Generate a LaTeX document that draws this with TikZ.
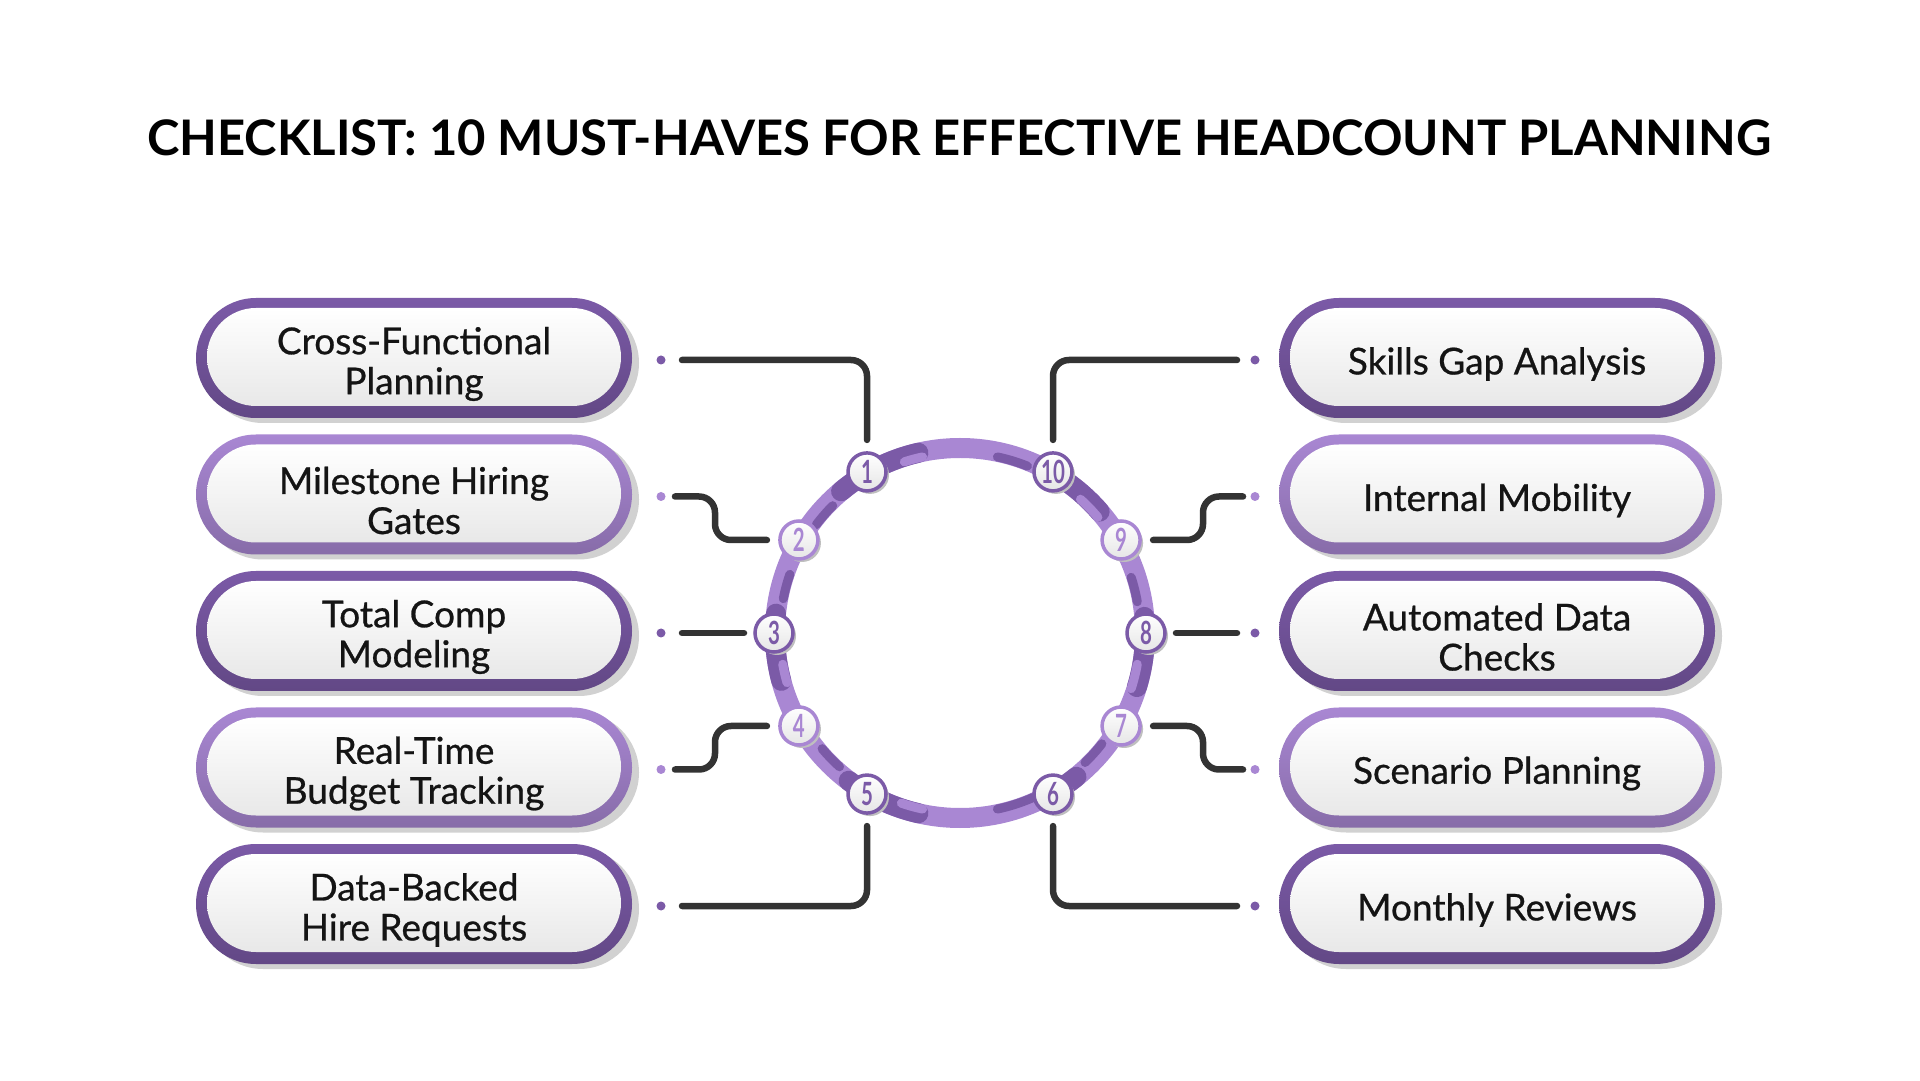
\documentclass[tikz,border=0pt]{standalone}
\usepackage{fontspec}
\usepackage{graphicx}
\setmainfont{Lato}
\newfontfamily\medfont{Lato}[FakeBold=0.7]
\usetikzlibrary{positioning, shadows}
\definecolor{dk}{HTML}{7B5AA7}
\definecolor{lt}{HTML}{A987D3}
\definecolor{wire}{HTML}{333333}
\newcommand{\numf}[1]{\scalebox{0.64}[1]{\bfseries #1}}

\begin{document}
\begin{tikzpicture}[x=1pt, y=1pt,
  pill/.style={rectangle, rounded corners=60pt, minimum width=436pt, minimum height=120pt, inner sep=0pt, top color=#1, middle color=#1, bottom color=#1!80!black, drop shadow={shadow xshift=7pt, shadow yshift=-5pt, fill=black!18, opacity=1}},
  face/.style={rectangle, rounded corners=49pt, minimum width=414pt, minimum height=98pt, top color=white, bottom color=black!9},
  caption/.style={align=center, text=black!92, font=\medfont\fontsize{37}{40}\selectfont},
  badge/.style={circle, minimum size=38pt, inner sep=0pt, draw=#1, line width=3.5pt, top color=white, bottom color=black!10, text=#1, font=\fontsize{32}{32}\selectfont, drop shadow={shadow xshift=3pt, shadow yshift=-3pt, fill=black!25, opacity=1}},
  pin/.style={circle, fill=#1, minimum size=9pt, inner sep=0pt},
  conn/.style={draw=wire, line width=6.5pt, line cap=round, rounded corners=16pt},
  band/.style={line width=20pt, line cap=round},
  stripe/.style={line width=9pt, line cap=round}]
\fill[white] (0,0) rectangle (1920,1080);
\useasboundingbox (0,0) rectangle (1920,1080);
\node[font=\fontsize{49}{53}\selectfont\bfseries] (title) at (959,942) {CHECKLIST: 10 MUST-HAVES FOR EFFECTIVE HEADCOUNT PLANNING};
% pills
\foreach \i/\y/\c/\txt in {1/720/dk/{Cross-Functional\\Planning}, 2/583.5/lt/{Milestone Hiring\\Gates}, 3/447/dk/{Total Comp\\Modeling}, 4/310.5/lt/{Real-Time\\Budget Tracking}, 5/174/dk/{Data-Backed\\Hire Requests}}{
  \node[pill=\c] (p\i) at (414,\y+2) {};
  \node[face] (f\i) at ([yshift=1pt]p\i.center) {};
  \node[caption] (t\i) at ([yshift=-6pt]p\i.center) {\txt};
  \node[pin=\c] (d\i) at (661,\y) {};
}
\foreach \i/\y/\c/\txt in {10/720/dk/{Skills Gap Analysis}, 9/583.5/lt/{Internal Mobility}, 8/447/dk/{Automated Data\\Checks}, 7/310.5/lt/{Scenario Planning}, 6/174/dk/{Monthly Reviews}}{
  \node[pill=\c] (p\i) at (1497,\y+2) {};
  \node[face] (f\i) at ([yshift=1pt]p\i.center) {};
  \node[caption] (t\i) at ([yshift=-6pt]p\i.center) {\txt};
  \node[pin=\c] (d\i) at (1255,\y) {};
}
% ring
\coordinate (c) at (960,447);
\draw[band, lt] (c) circle[radius=185];
\foreach \a/\b in {38/66, 100/133, 171/198, 230/260, 296/312, -20/8}
  \draw[band, dk] ([shift={({\a+3}:185)}]c) arc[start angle=\a+3, end angle=\b-3, radius=185];
\foreach \a/\b in {66/80, 133/145, 159/171, 218/230, 280/296, 312/324, 8/20}
  \draw[stripe, dk] ([shift={({\a+2}:180)}]c) arc[start angle=\a+2, end angle=\b-2, radius=180];
\foreach \a/\b in {38/50, 100/110, 188/198, 249/260, -20/-8}
  \draw[stripe, lt] ([shift={({\a+2}:180)}]c) arc[start angle=\a+2, end angle=\b-2, radius=180];
\foreach \i/\a/\c in {1/120/dk, 2/150/lt, 3/180/dk, 4/210/lt, 5/240/dk, 6/300/dk, 7/330/lt, 8/0/dk, 9/30/lt, 10/60/dk}
  \node[badge=\c] (b\i) at ([shift={(\a:186)}]c) {\numf{\i}};
% connectors
\draw[conn] ([xshift=21pt]d1.center) -| ([yshift=32pt]b1.center);
\draw[conn] ([xshift=14pt]d2.center) -- ++(40,0) |- ([xshift=-32pt]b2.center);
\draw[conn] ([xshift=21pt]d3.center) -- ([xshift=-30pt]b3.center);
\draw[conn] ([xshift=14pt]d4.center) -- ++(40,0) |- ([xshift=-32pt]b4.center);
\draw[conn] ([xshift=21pt]d5.center) -| ([yshift=-32pt]b5.center);
\draw[conn] ([xshift=-18pt]d10.center) -| ([yshift=32pt]b10.center);
\draw[conn] ([xshift=-12pt]d9.center) -- ++(-40,0) |- ([xshift=32pt]b9.center);
\draw[conn] ([xshift=-18pt]d8.center) -- ([xshift=30pt]b8.center);
\draw[conn] ([xshift=-12pt]d7.center) -- ++(-40,0) |- ([xshift=32pt]b7.center);
\draw[conn] ([xshift=-18pt]d6.center) -| ([yshift=-32pt]b6.center);
\end{tikzpicture}
\end{document}
